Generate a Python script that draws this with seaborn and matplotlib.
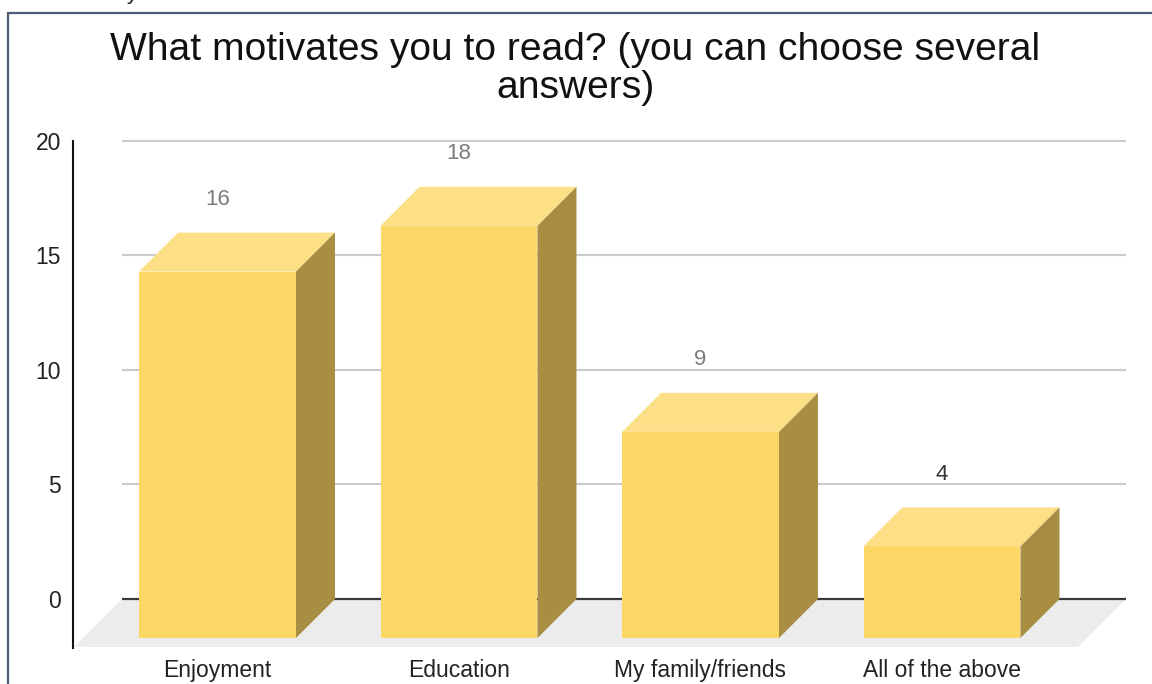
import numpy as np
import matplotlib
matplotlib.use("Agg")
import matplotlib.pyplot as plt
from matplotlib.patches import Polygon
from matplotlib.lines import Line2D
import seaborn as sns

# Survey answers
categories = ["Enjoyment", "Education", "My family/friends", "All of the above"]
responses = [16, 18, 9, 4]
y_ticks = [0, 5, 10, 15, 20]
value_label_colors = ["#7b7b7b", "#7b7b7b", "#7b7b7b", "#333333"]
title = "What motivates you to read? (you can choose several\nanswers)"

# Face colours of the 3-D columns
FRONT = "#fdd766"
TOP = "#fddf88"
SIDE = "#a88e42"
FLOOR = "#ececec"
GRID = "#cccccc"

sns.set_theme(style="white")
plt.rcParams["font.family"] = ["Liberation Sans", "DejaVu Sans"]

W, H = 1152, 684
fig = plt.figure(figsize=(W / 100, H / 100), dpi=100)
ax = fig.add_axes([73 / W, 36 / H, 1053 / W, 507 / H])

# Depth of the extrusion, in data units (x: category units, y: value units)
DX = 0.1615
DY = 1.703
GRID_X0, GRID_X1 = -0.557, 3.6004
FLOOR_DX, FLOOR_DY = 0.199, 2.096

sns.barplot(x=categories, y=responses, width=0.65, color=FRONT,
            saturation=1, linewidth=0, ax=ax, zorder=3)
bars = list(ax.patches)

# Floor plane under the columns
ax.add_patch(Polygon([(GRID_X0, 0), (GRID_X1, 0),
                      (GRID_X1 - FLOOR_DX, -FLOOR_DY), (GRID_X0 - FLOOR_DX, -FLOOR_DY)],
                     closed=True, facecolor=FLOOR, edgecolor="none", zorder=0.5))

# Back-wall gridlines and the zero line
ax.hlines(y_ticks[1:], GRID_X0, GRID_X1, color=GRID, lw=1.5, zorder=1, clip_on=False)
ax.hlines(0, GRID_X0, GRID_X1, color="#3a3a3a", lw=1.6, zorder=1.5)

# Extrude each bar: move the front face forward, add top and side faces
for bar, v in zip(bars, responses):
    x0 = bar.get_x()
    w = bar.get_width()
    bar.set_x(x0 - DX)
    bar.set_y(-DY)
    bar.set_height(v)
    top = Polygon([(x0 - DX, v - DY), (x0 - DX + w, v - DY), (x0 + w, v), (x0, v)],
                  closed=True, facecolor=TOP, edgecolor="none", zorder=3)
    side = Polygon([(x0 - DX + w, -DY), (x0 + w, 0), (x0 + w, v), (x0 - DX + w, v - DY)],
                   closed=True, facecolor=SIDE, edgecolor="none", zorder=3)
    ax.add_patch(top)
    ax.add_patch(side)

# Value labels above each column
for i, (v, c) in enumerate(zip(responses, value_label_colors)):
    ax.annotate(str(v), (i - DX, v), xytext=(0, 24), textcoords="offset points",
                ha="center", va="center", fontsize=16, color=c)

ax.set_xlim(-0.7598, 3.6004)
ax.set_ylim(-2.14, 20)
ax.set_xticks(np.arange(len(categories)) - DX)
ax.set_xticklabels(categories)
ax.set_yticks(y_ticks)
ax.set_yticklabels([str(t) for t in y_ticks])
ax.tick_params(axis="y", length=0, pad=8.5, labelsize=16.5, labelcolor="#222222")
ax.tick_params(axis="x", length=0, pad=8, labelsize=16.5, labelcolor="#222222")
ax.set_xlabel("")
ax.set_ylabel("")
for s in ["top", "right", "bottom"]:
    ax.spines[s].set_visible(False)
ax.spines["left"].set_color("#111111")
ax.spines["left"].set_linewidth(1.5)
ax.set_facecolor("none")

fig.text(575 / W, 1 - 69 / H, title, ha="center", va="center",
         fontsize=28.1, linespacing=1.09, color="#111111")

# Frame around the chart
frame = "#4e5d73"
fig.add_artist(Line2D([8 / W, 8 / W], [0, 1 - 13 / H], color=frame, lw=1.6))
fig.add_artist(Line2D([8 / W, 1], [1 - 13 / H, 1 - 13 / H], color=frame, lw=1.6))
fig.text(126 / W, 1 - 0.5 / H, "y", ha="left", va="baseline", fontsize=15, color="#111111")

fig.savefig("out.png", dpi=100, facecolor="white")
